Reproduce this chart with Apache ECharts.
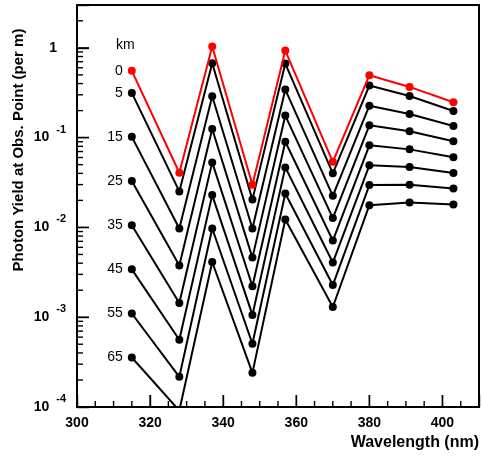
<!DOCTYPE html>
<html>
<head>
<meta charset="utf-8">
<script src="https://cdn.jsdelivr.net/npm/echarts@6/dist/echarts.min.js"></script>
<style>html,body{margin:0;padding:0;background:#fff;}#c{width:482px;height:458px;}</style>
</head>
<body>
<div id="c"></div>
<script>
const wavelengths = [315, 328, 337, 348, 357, 370, 380, 391, 403];
const distances = ['0', '5', '15', '25', '35', '45', '55', '65'];
const yield0  = [0.554, 0.0406, 1.034, 0.0298, 0.933, 0.0538, 0.496, 0.367, 0.248];
const yield5  = [0.315, 0.0252, 0.675, 0.0204, 0.668, 0.040, 0.380, 0.291, 0.198];
const yield15 = [0.102, 0.00972, 0.289, 0.00972, 0.343, 0.0225, 0.227, 0.183, 0.135];
const yield25 = [0.0328, 0.00376, 0.125, 0.00461, 0.176, 0.0127, 0.137, 0.118, 0.091];
const yield35 = [0.0106, 0.00144, 0.053, 0.00221, 0.090, 0.00714, 0.082, 0.074, 0.0603];
const yield45 = [0.00341, 0.000561, 0.0229, 0.00106, 0.0466, 0.00406, 0.0491, 0.047, 0.0403];
const yield55 = [0.00110, 0.000217, 0.00972, 0.000506, 0.0239, 0.00228, 0.0296, 0.0298, 0.0272];
const yield65 = [0.000356, 0.0000912, 0.00412, 0.00024, 0.01225, 0.0013, 0.0177, 0.019, 0.018];
const xMajorTicks = [320, 340, 360, 380, 400];
const xMinorTicks = [305, 310, 315, 325, 330, 335, 345, 350, 355, 365, 370, 375, 385, 390, 395, 405];
const yMajorTicks = [1e-4, 1e-3, 1e-2, 1e-1, 1];
const yMinorMantissas = [2, 3, 4, 5, 6, 7, 8, 9];
const yDecades = [-4, -3, -2, -1, 0];

const allYields = [yield0, yield5, yield15, yield25, yield35, yield45, yield55, yield65];
const fam = 'Liberation Sans, Arial, sans-serif';

const chart = echarts.init(document.getElementById('c'), null, {renderer: 'canvas'});

const lineSeries = allYields.map((ys, i) => ({
  type: 'line',
  name: distances[i] + ' km',
  z: i === 0 ? 5 : 3,
  data: ys.map((v, j) => j === 0 ? {
    value: [wavelengths[j], v],
    label: {show: true, position: 'left', distance: 5, formatter: distances[i],
            fontSize: 14, color: '#000', fontFamily: fam}
  } : {value: [wavelengths[j], v]}),
  symbol: 'circle',
  symbolSize: 8,
  showAllSymbol: true,
  itemStyle: {color: i === 0 ? '#ff0000' : '#000'},
  lineStyle: {color: i === 0 ? '#ff0000' : '#000', width: 2},
  label: {show: false},
  clip: true,
  silent: true
}));

const baseGraphic = [
  {type: 'text', left: 116, top: 38, style: {text: 'km', font: '14px Liberation Sans, Arial, sans-serif', fill: '#000'}},
  {type: 'text', x: 19, y: 150, rotation: Math.PI / 2,
   style: {text: 'Photon Yield at Obs. Point (per m)', font: 'bold 15px Liberation Sans, Arial, sans-serif',
           fill: '#000', align: 'center', verticalAlign: 'middle'}},
  {type: 'text', x: 479, y: 443,
   style: {text: 'Wavelength (nm)', font: 'bold 16px Liberation Sans, Arial, sans-serif',
           fill: '#000', align: 'right', verticalAlign: 'middle'}}
];

chart.setOption({
  animation: false,
  backgroundColor: '#fff',
  grid: {left: 77, right: 3, top: 5, bottom: 51, show: true, borderColor: '#000', borderWidth: 2},
  xAxis: {
    type: 'value', min: 300, max: 410, interval: 20,
    axisLine: {show: true, onZero: false, lineStyle: {color: '#000', width: 2}},
    axisTick: {show: true, inside: true, length: 12, lineStyle: {color: '#000', width: 1.4}},
    axisLabel: {fontSize: 14, fontWeight: 'bold', color: '#000', margin: 9, fontFamily: fam,
      formatter: v => (v % 20 === 0 ? String(v) : '')},
    splitLine: {show: false}
  },
  yAxis: {
    type: 'log', logBase: 10, min: 1e-4, max: 3,
    axisLine: {show: true, onZero: false, lineStyle: {color: '#000', width: 2}},
    axisTick: {show: true, inside: true, length: 12, lineStyle: {color: '#000', width: 1.4}},
    axisLabel: {
      margin: 11, color: '#000', fontFamily: fam,
      formatter: function (v) {
        const e = Math.log10(v);
        const r = Math.round(e);
        if (Math.abs(e - r) > 1e-6) return '';
        if (r === 0) return '{b|1}{p|}';
        return '{b|10}{s|' + r + '}';
      },
      rich: {
        b: {fontSize: 14, fontWeight: 'bold', color: '#000', fontFamily: fam},
        s: {fontSize: 11, fontWeight: 'bold', color: '#000', fontFamily: fam, padding: [0, 0, 16, 7]},
        p: {width: 9}
      }
    },
    splitLine: {show: false}
  },
  graphic: baseGraphic,
  series: lineSeries.slice(1).concat([lineSeries[0]])
});

// Tick marks placed via the chart's own coordinate conversion
const tickEls = [];
function tick(p, dx, dy) {
  tickEls.push({type: 'line', silent: true, z: 100,
    shape: {x1: p[0], y1: p[1], x2: p[0] + dx, y2: p[1] + dy},
    style: {stroke: '#000', lineWidth: 1.4}});
}
xMajorTicks.forEach(v => tick(chart.convertToPixel({gridIndex: 0}, [v, 1e-4]), 0, -12));
xMinorTicks.forEach(v => tick(chart.convertToPixel({gridIndex: 0}, [v, 1e-4]), 0, -6));
yMajorTicks.forEach(v => tick(chart.convertToPixel({gridIndex: 0}, [300, v]), 12, 0));
yDecades.forEach(d => yMinorMantissas.forEach(m => {
  const v = m * Math.pow(10, d);
  if (v < 3) tick(chart.convertToPixel({gridIndex: 0}, [300, v]), 6, 0);
}));
chart.setOption({graphic: baseGraphic.concat(tickEls)}, {replaceMerge: ['graphic']});
</script>
</body>
</html>
